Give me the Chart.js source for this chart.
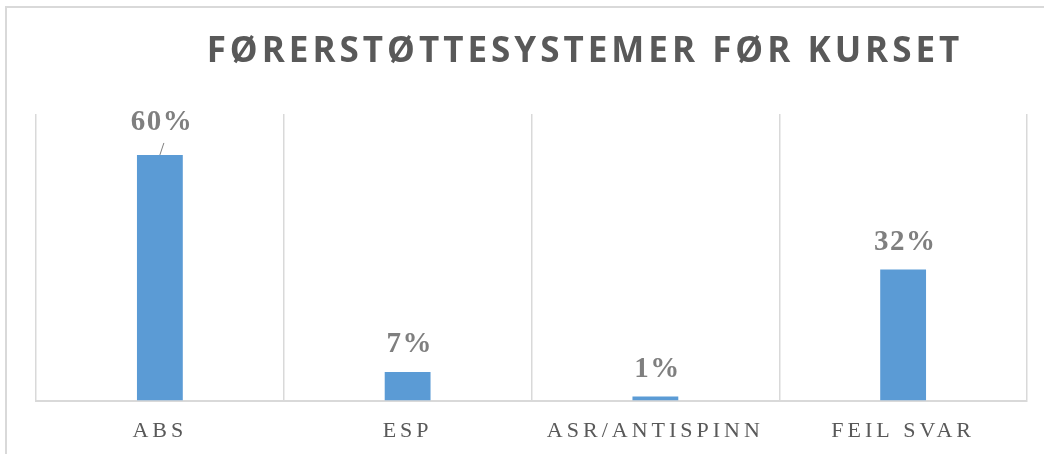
<!DOCTYPE html>
<html>
<head>
<meta charset="utf-8">
<title>Førerstøttesystemer før kurset</title>
<script src="https://cdn.jsdelivr.net/npm/chart.js@4.4.1/dist/chart.umd.min.js"></script>
<style>
    html, body {
        margin: 0;
        padding: 0;
        background: #ffffff;
        overflow: hidden;
        width: 1044px;
        height: 454px;
    }
    #frame {
        position: absolute;
        left: 5px;
        top: 6px;
        width: 1160px;
        height: 470px;
        border-top: 2px solid #d9d9d9;
        border-left: 2px solid #d9d9d9;
    }
</style>
</head>
<body>
<div id="frame"><canvas id="chart" width="1160" height="470"></canvas></div>
<script>
// Data
const categories = ['ABS', 'ESP', 'ASR/ANTISPINN', 'FEIL SVAR'];
const shares = [0.60, 0.07, 0.01, 0.32];
const valueLabels = ['60%', '7%', '1%', '32%'];
const chartTitle = 'FØRERSTØTTESYSTEMER FØR KURSET';

// Excel-style spaced capitals for the axis labels
const letterSpacingPlugin = {
    id: 'letterSpacing',
    beforeDraw(chart) {
        chart.ctx.letterSpacing = '4px';
    }
};

// Title is centred on the full (cropped) chart object, not on the plot
const titlePlugin = {
    id: 'spacedTitle',
    afterDraw(chart, args, opts) {
        const ctx = chart.ctx;
        ctx.save();
        ctx.letterSpacing = '4px';
        ctx.font = 'bold 35px "Open Sans", sans-serif';
        ctx.fillStyle = '#595959';
        ctx.textAlign = 'center';
        ctx.textBaseline = 'middle';
        ctx.fillText(opts.text, chart.width / 2 - 2, 44);
        ctx.restore();
    }
};

// Value labels above bars (with a short leader line where Excel moved the label)
const valueLabelPlugin = {
    id: 'valueLabels',
    afterDatasetsDraw(chart, args, opts) {
        const ctx = chart.ctx;
        const meta = chart.getDatasetMeta(0);
        ctx.save();
        ctx.letterSpacing = '1.5px';
        ctx.font = 'bold 29px "Liberation Serif", "Times New Roman", serif';
        ctx.fillStyle = '#7f7f7f';
        ctx.textAlign = 'center';
        ctx.textBaseline = 'alphabetic';
        meta.data.forEach((bar, i) => {
            let y = bar.y - 20;
            if (opts.leaders.includes(i)) {
                ctx.strokeStyle = '#7f7f7f';
                ctx.lineWidth = 1;
                ctx.beginPath();
                ctx.moveTo(bar.x, bar.y);
                ctx.lineTo(bar.x + 4, bar.y - 12);
                ctx.stroke();
                y -= 5;
            }
            ctx.fillText(valueLabels[i], bar.x + 2, y);
        });
        ctx.restore();
    }
};

const ctx = document.getElementById('chart');
new Chart(ctx, {
    type: 'bar',
    data: {
        labels: categories,
        datasets: [{
            data: shares,
            backgroundColor: '#5b9bd5',
            borderWidth: 0,
            barPercentage: 0.185,
            categoryPercentage: 1
        }]
    },
    options: {
        responsive: false,
        animation: false,
        devicePixelRatio: 1,
        layout: {
            padding: { left: 29, right: 140, top: 106, bottom: 17 }
        },
        plugins: {
            legend: { display: false },
            tooltip: { enabled: false },
            title: { display: false },
            spacedTitle: { text: chartTitle },
            valueLabels: { leaders: [0] }
        },
        scales: {
            x: {
                offset: true,
                grid: {
                    offset: true,
                    color: '#d9d9d9',
                    lineWidth: 1.5,
                    drawTicks: false
                },
                border: { color: '#d9d9d9', width: 2 },
                ticks: {
                    color: '#595959',
                    padding: 17,
                    font: { family: '"Liberation Serif", "Times New Roman", serif', size: 22 }
                }
            },
            y: {
                display: false,
                min: 0,
                max: 0.7
            }
        }
    },
    plugins: [letterSpacingPlugin, titlePlugin, valueLabelPlugin]
});
</script>
</body>
</html>
